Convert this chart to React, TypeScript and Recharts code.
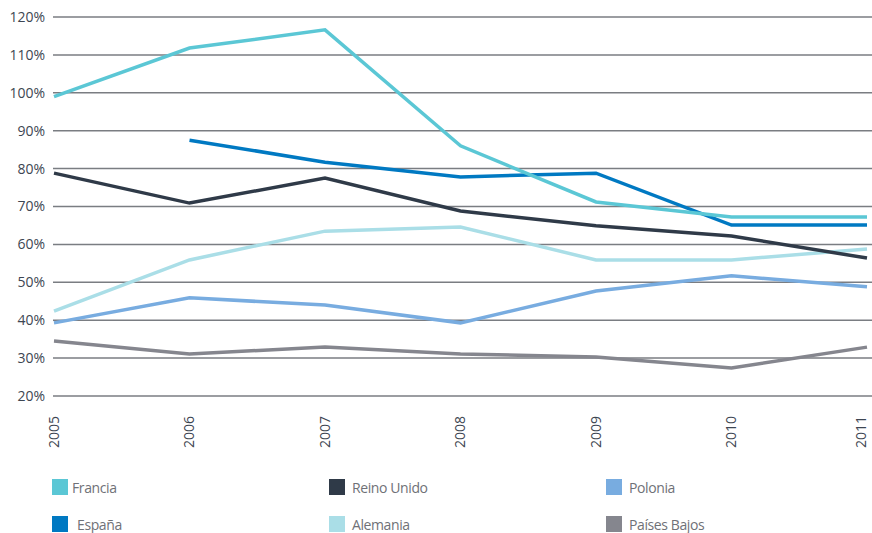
import React from 'react'
import { LineChart, Line, XAxis, YAxis, CartesianGrid } from 'recharts';

const years = ['2005', '2006', '2007', '2008', '2009', '2010', '2011'];
const francia = [99, 111.8, 116.6, 86, 71.2, 67.2, 67.2];
const espana = [null, 87.5, 81.7, 77.8, 78.8, 65.1, 65.1];
const reinoUnido = [78.8, 70.9, 77.5, 68.8, 64.9, 62.2, 56.4];
const alemania = [42.4, 55.9, 63.5, 64.6, 55.9, 55.9, 58.8];
const polonia = [39.3, 45.9, 44, 39.3, 47.7, 51.7, 48.8];
const paisesBajos = [34.5, 31.1, 32.9, 31.1, 30.3, 27.4, 32.9];
const yTicks = [20, 30, 40, 50, 60, 70, 80, 90, 100, 110, 120];

const series = [
  { key: 'paisesBajos', name: 'Países Bajos', color: '#85868e', values: paisesBajos },
  { key: 'polonia', name: 'Polonia', color: '#78ace0', values: polonia },
  { key: 'alemania', name: 'Alemania', color: '#aadee7', values: alemania },
  { key: 'reinoUnido', name: 'Reino Unido', color: '#2f3a48', values: reinoUnido },
  { key: 'espana', name: 'España', color: '#0079c2', values: espana },
  { key: 'francia', name: 'Francia', color: '#5bc7d5', values: francia },
];

// legend order, row by row
const legendOrder = ['francia', 'reinoUnido', 'polonia', 'espana', 'alemania', 'paisesBajos'];

const data = years.map((year, i) => {
  const row: Record<string, any> = { year };
  series.forEach(s => { row[s.key] = s.values[i]; });
  return row;
});

const font = '"Open Sans", "Noto Sans", sans-serif';

// rotated year label; the last one is nudged left so it stays on the page
const YearTick = (props: any) => {
  const { x, y, payload, index } = props;
  const last = index === years.length - 1;
  const tx = last ? x - 6 : x;
  return (
    <text
      x={tx}
      y={y + 12}
      dy="0.35em"
      transform={`rotate(-90, ${tx}, ${y + 12})`}
      textAnchor="end"
      fontSize={14}
      fontFamily={font}
      fill="#3d4652"
    >
      <tspan dx={0} dy="0.35em">{payload.value}</tspan>
    </text>
  );
};

const App = () => {
  return (
    <div style={{ position: 'absolute', left: 0, top: 0, width: 872, height: 533, background: '#fff', fontFamily: font }}>
      <LineChart width={872} height={460} data={data} margin={{ top: 17, right: 0, left: 0, bottom: 0 }}>
        <CartesianGrid vertical={false} stroke="#7a7d82" strokeWidth={1.5} />
        <XAxis
          dataKey="year"
          axisLine={false}
          tickLine={false}
          interval={0}
          height={64}
          padding={{ left: 1, right: 5 }}
          tick={<YearTick />}
        />
        <YAxis
          domain={[20, 120]}
          ticks={yTicks}
          width={53}
          axisLine={false}
          tickLine={false}
          tickFormatter={(v: number) => `${v}%`}
          tick={{ fill: '#3d4652', fontSize: 14, fontFamily: font }}
        />
        {series.map(s => (
          <Line
            key={s.key}
            dataKey={s.key}
            name={s.name}
            stroke={s.color}
            strokeWidth={3.5}
            dot={false}
            type="linear"
            isAnimationActive={false}
          />
        ))}
      </LineChart>
      {legendOrder.map((k, i) => {
        const s = series.find(x => x.key === k)!;
        const col = i % 3;
        const row = Math.floor(i / 3);
        const gap = k === 'espana' ? 9 : col === 0 ? 4 : 7;
        return (
          <div key={k} style={{ position: 'absolute', left: 52 + col * 277, top: 479 + row * 37, height: 16, display: 'flex', alignItems: 'center' }}>
            <div style={{ width: 16, height: 16, background: s.color }} />
            <span style={{ marginLeft: gap, fontSize: 14, color: '#6f7177', letterSpacing: -0.4 }}>{s.name}</span>
          </div>
        );
      })}
    </div>
  )
}

export default App
